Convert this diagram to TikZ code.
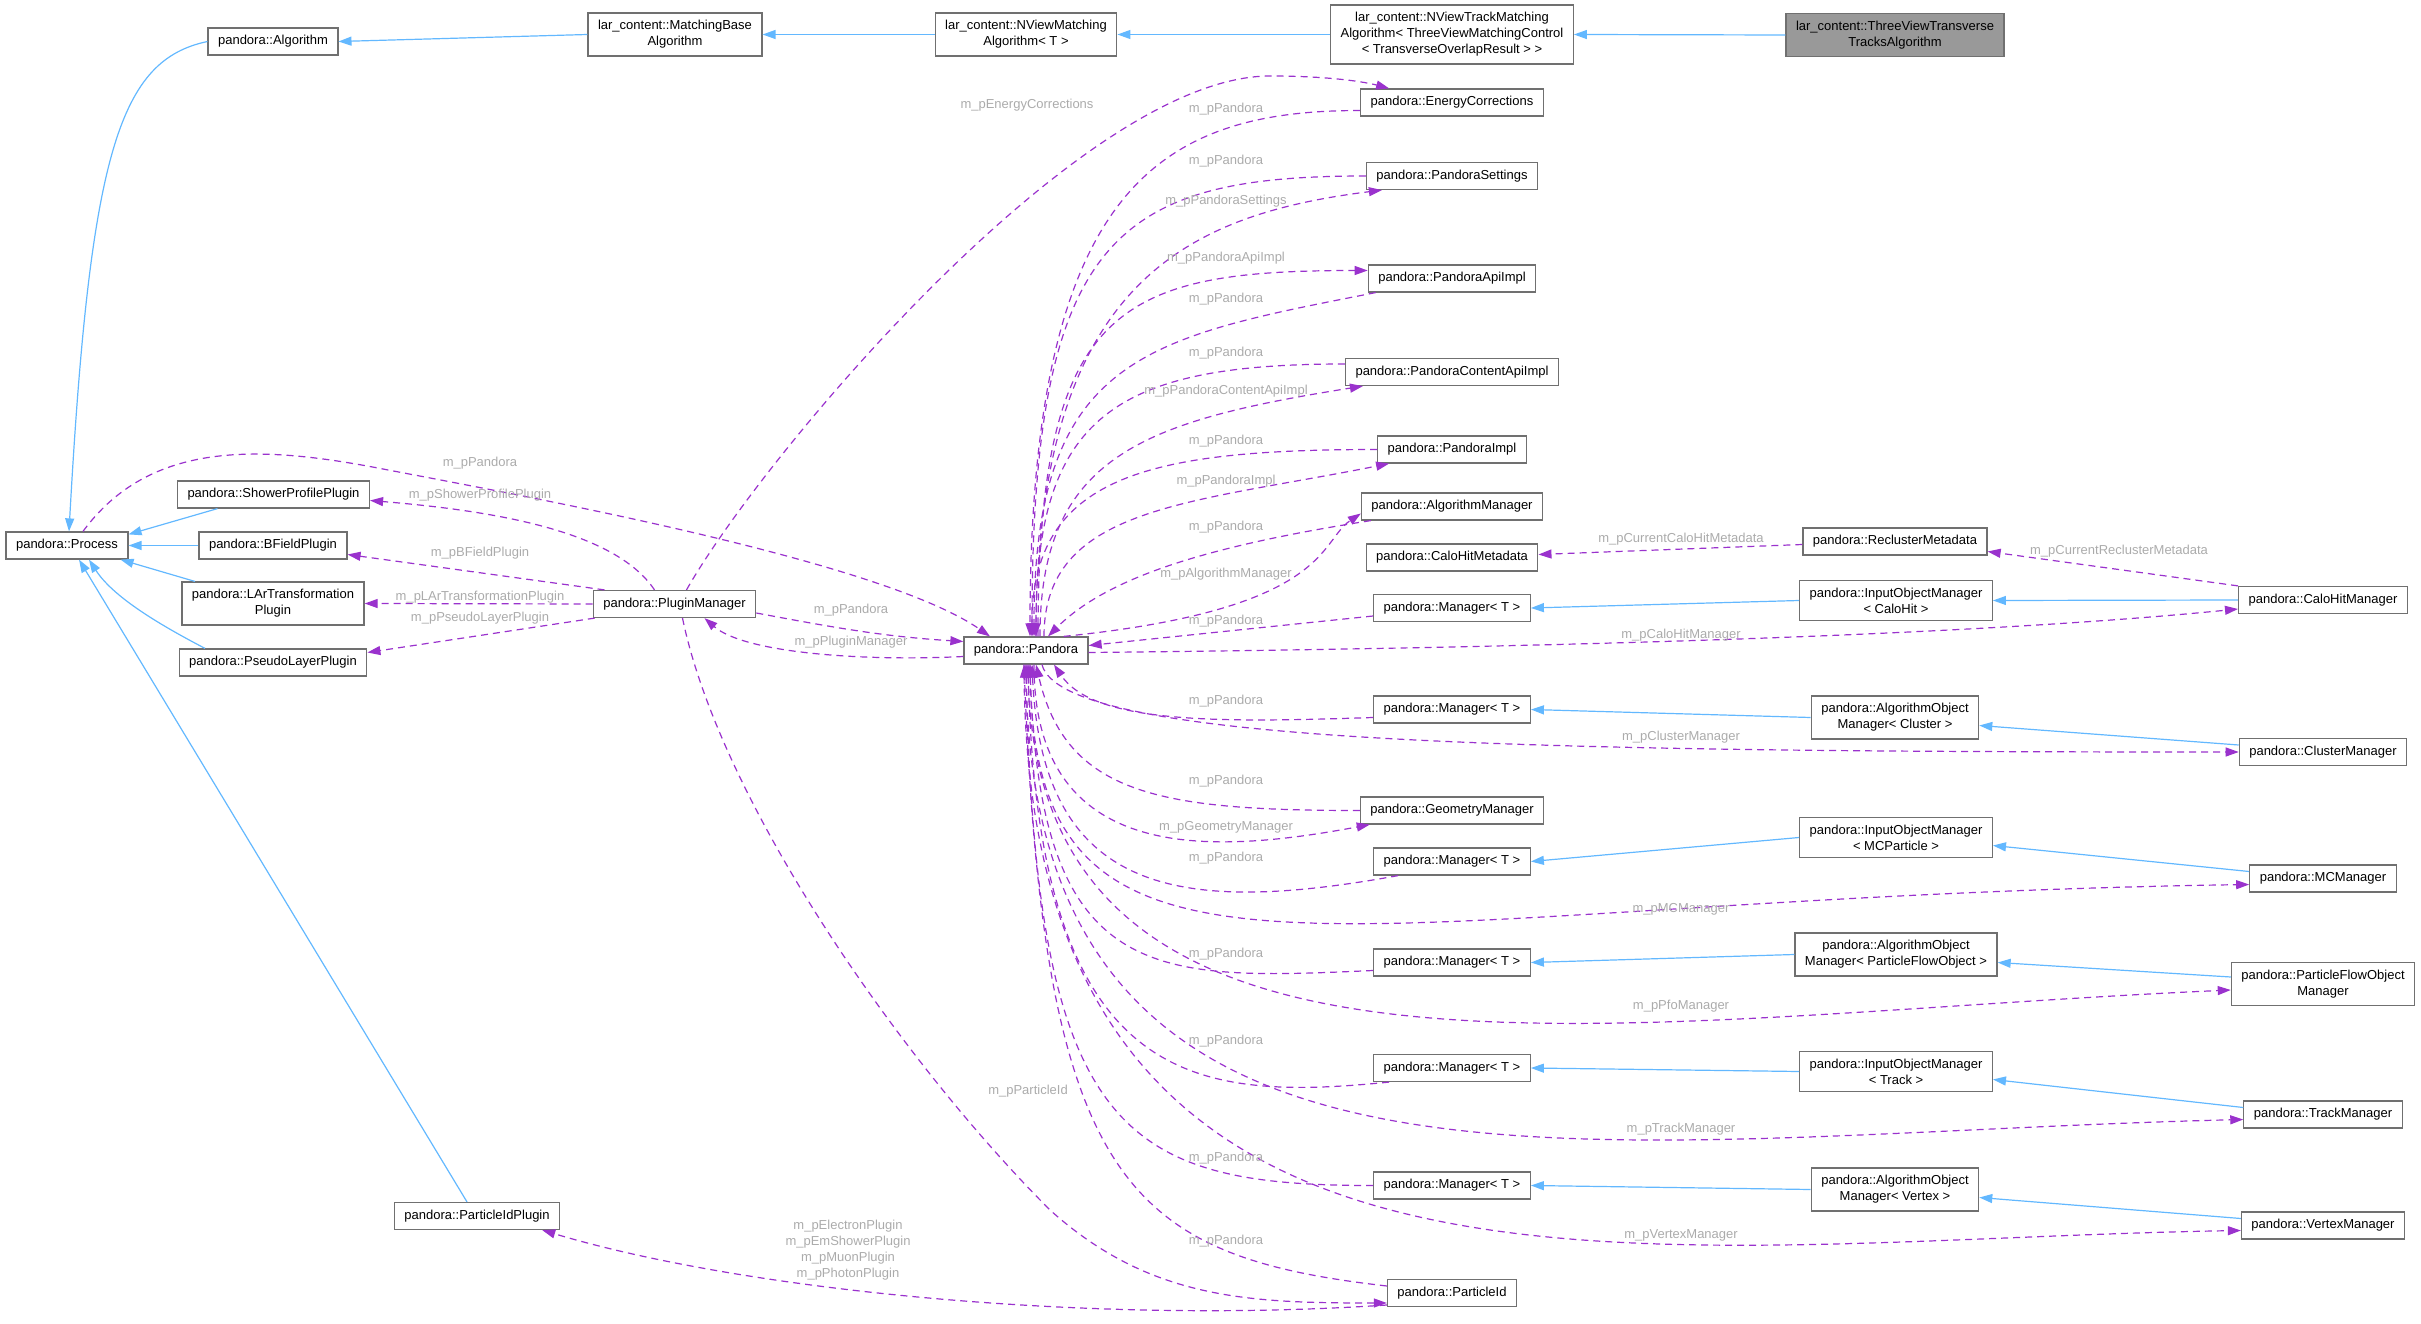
\documentclass[tikz,border=0pt]{standalone}
\usepackage{fontspec}
\setmainfont{Liberation Sans}
\usetikzlibrary{arrows.meta}
\definecolor{inhblue}{HTML}{63B8FF}
\definecolor{usepurple}{HTML}{9A32CD}
\definecolor{lblgray}{HTML}{ABABAB}
\definecolor{boxgray}{HTML}{707070}
\definecolor{boxfill}{HTML}{999999}
\begin{document}
\begin{tikzpicture}[x=1pt,y=-1pt,font=\fontsize{13}{16}\selectfont,
	cls/.style={draw=boxgray,line width=1.2pt,fill=white,align=center,inner xsep=10pt,inner ysep=7.4pt,minimum height=27pt},
	inh/.style={draw=inhblue,line width=1.2pt,-{Triangle[length=13pt,width=9pt]}},
	dep/.style={draw=usepurple,line width=1.2pt,dash pattern=on 7pt off 5pt,-{Triangle[length=13pt,width=9pt]}},
	lbl/.style={text=lblgray,inner sep=0pt,align=center}]
	\useasboundingbox (0,0) rectangle (2421,1324);
	\foreach \nm/\px/\py/\txt in {alg/273/41.5/pandora::Algorithm,mba/675/34.5/lar\_content::MatchingBase\\Algorithm,
		nvm/1026/34.5/lar\_content::NViewMatching\\Algorithm< T >,
		nvt/1452/34.5/lar\_content::NViewTrackMatching\\Algorithm< ThreeViewMatchingControl\\< TransverseOverlapResult > >,
		process/67/545.5/pandora::Process,shower/273.5/494.5/pandora::ShowerProfilePlugin,bfield/273/545.5/pandora::BFieldPlugin,
		lar/273/603.5/pandora::LArTransformation\\Plugin,pseudo/273/662.5/pandora::PseudoLayerPlugin,pidplugin/477/1216/pandora::ParticleIdPlugin,
		pluginmgr/674.5/604/pandora::PluginManager,pandora/1026/650.5/pandora::Pandora,
		ec/1452/102.5/pandora::EnergyCorrections,settings/1452/176/pandora::PandoraSettings,apiimpl/1452/278.5/pandora::PandoraApiImpl,
		contapi/1452/372/pandora::PandoraContentApiImpl,impl/1452/449.5/pandora::PandoraImpl,algmgr/1452/506.5/pandora::AlgorithmManager,
		chmeta/1452/557.5/pandora::CaloHitMetadata,recl/1895/541.5/pandora::ReclusterMetadata,
		mcalo/1452/608/pandora::Manager< T >,icalo/1896/600.5/pandora::InputObjectManager\\< CaloHit >,calohit/2323/600/pandora::CaloHitManager,
		mclus/1452/709.5/pandora::Manager< T >,aclus/1895/717.5/pandora::AlgorithmObject\\Manager< Cluster >,clusmgr/2323/752/pandora::ClusterManager,
		geom/1452/810.5/pandora::GeometryManager,
		mmc/1452/861.5/pandora::Manager< T >,imc/1896/837.5/pandora::InputObjectManager\\< MCParticle >,mcmgr/2323/878.5/pandora::MCManager,
		mpfo/1452/962.5/pandora::Manager< T >,apfo/1896/954.5/pandora::AlgorithmObject\\Manager< ParticleFlowObject >,pfomgr/2323/984/pandora::ParticleFlowObject\\Manager,
		mtrk/1452/1068/pandora::Manager< T >,itrk/1896/1071.5/pandora::InputObjectManager\\< Track >,trkmgr/2323/1114.5/pandora::TrackManager,
		mvtx/1452/1185.5/pandora::Manager< T >,avtx/1895/1189.5/pandora::AlgorithmObject\\Manager< Vertex >,vtxmgr/2323/1225.5/pandora::VertexManager,
		pid/1452/1293/pandora::ParticleId}
	\node[cls] (\nm) at (\px,\py) {\txt};
	\node[cls,fill=boxfill] (three) at (1895,35) {lar\_content::ThreeViewTransverse\\TracksAlgorithm};
	% inheritance
	\draw[inh] (three.west) -- (nvt.east);
	\draw[inh] (nvt.west) -- (nvm.east);
	\draw[inh] (nvm.west) -- (mba.east);
	\draw[inh] (mba.west) -- (alg.east);
	\draw[inh] (alg.west) .. controls (120,60) and (90,150) .. ([xshift=2pt]process.north);
	\draw[inh] ([xshift=-56pt]shower.south) -- ([yshift=-3pt]process.north east);
	\draw[inh] (bfield.west) -- (process.east);
	\draw[inh] ([xshift=-78pt]lar.north) -- ([xshift=-8pt]process.south east);
	\draw[inh] ([xshift=-68pt]pseudo.north) .. controls (170,630) and (115,600) .. ([xshift=22pt]process.south);
	\draw[inh] ([xshift=-10pt]pidplugin.north) -- ([xshift=12pt]process.south);
	\draw[inh] (calohit.west) -- (icalo.east);
	\foreach \a/\b in {icalo/mcalo,aclus/mclus,imc/mmc,apfo/mpfo,itrk/mtrk,avtx/mvtx}
	\draw[inh] (\a.west) -- (\b.east);
	\foreach \a/\b in {clusmgr/aclus,mcmgr/imc,pfomgr/apfo,trkmgr/itrk,vtxmgr/avtx}
	\draw[inh] ([yshift=7pt]\a.west) -- ([yshift=-8pt]\b.east);
	% members
	\draw[dep] ([xshift=12pt]pluginmgr.north) .. controls (760,460) and (1080,76) .. (1270,76) .. controls (1330,76) and (1365,82) .. ([xshift=29pt]ec.north west);
	\draw[dep] ([yshift=-8pt]ec.west) .. controls +(-200,0) and +(0,-450) .. ([xshift=4pt]pandora.north);
	\draw[dep] (settings.west) .. controls +(-250,0) and +(0,-400) .. ([xshift=6pt]pandora.north);
	\draw[dep] ([xshift=10pt]pandora.north) .. controls +(0,-350) and +(-200,25) .. ([xshift=16pt]settings.south west);
	\draw[dep] ([xshift=8pt]apiimpl.south west) .. controls +(-230,45) and +(0,-280) .. ([xshift=8pt]pandora.north);
	\draw[dep] ([xshift=12pt]pandora.north) .. controls +(0,-330) and +(-250,0) .. ([yshift=8pt]apiimpl.west);
	\draw[dep] ([yshift=8pt]contapi.west) .. controls +(-230,0) and +(0,-220) .. ([xshift=10pt]pandora.north);
	\draw[dep] ([xshift=14pt]pandora.north) .. controls +(0,-180) and +(-220,35) .. ([xshift=18pt]contapi.south west);
	\draw[dep] (impl.west) .. controls +(-230,0) and +(0,-160) .. ([xshift=6pt]pandora.north);
	\draw[dep] ([xshift=18pt]pandora.north) .. controls +(0,-130) and +(-200,40) .. ([xshift=12pt]impl.south west);
	\draw[dep] ([xshift=10pt]algmgr.south west) .. controls +(-160,25) and +(60,-60) .. ([xshift=22pt]pandora.north);
	\draw[dep] ([xshift=-25pt]pandora.north east) .. controls +(267,-27) and +(-42,28) .. ([yshift=-7pt]algmgr.west);
	\draw[dep] ([yshift=-8pt]mcalo.west) -- ([yshift=5pt]pandora.east);
	\draw[dep] ([yshift=-2pt]pandora.east) .. controls +(500,-5) and +(-250,25) .. ([yshift=-9pt]calohit.west);
	\draw[dep] ([yshift=-3pt]recl.west) -- ([yshift=3pt]chmeta.east);
	\draw[dep] (calohit.north west) -- ([yshift=-10pt]recl.east);
	\draw[dep] ([yshift=-8pt]mclus.west) .. controls +(-150,5) and +(40,60) .. ([xshift=28pt]pandora.south);
	\draw[dep] ([xshift=16pt]pandora.south) .. controls +(20,80) and +(-700,0) .. (clusmgr.west);
	\draw[dep] (geom.west) .. controls +(-200,0) and +(30,130) .. ([xshift=10pt]pandora.south);
	\draw[dep] ([xshift=8pt]pandora.south) .. controls +(0,200) and +(-160,30) .. ([xshift=10pt]geom.south west);
	\draw[dep] ([xshift=25pt]mmc.south west) .. controls +(-220,40) and +(10,230) .. ([xshift=6pt]pandora.south);
	\draw[dep] ([xshift=4pt]pandora.south) .. controls +(0,380) and +(-920,14) .. ([yshift=-6pt]mcmgr.west);
	\draw[dep] ([yshift=-8pt]mpfo.west) .. controls +(-220,10) and +(10,320) .. ([xshift=4pt]pandora.south);
	\draw[dep] ([xshift=2pt]pandora.south) .. controls +(0,470) and +(-628,28) .. ([yshift=-6pt]pfomgr.west);
	\draw[dep] ([xshift=16pt]mtrk.south west) .. controls +(-200,20) and +(10,420) .. ([xshift=2pt]pandora.south);
	\draw[dep] (pandora.south) .. controls +(0,590) and +(-660,16) .. ([yshift=-5pt]trkmgr.west);
	\draw[dep] (mvtx.west) .. controls +(-250,0) and +(10,470) .. (pandora.south);
	\draw[dep] ([xshift=-2pt]pandora.south) .. controls +(0,700) and +(-600,10) .. ([yshift=-5pt]vtxmgr.west);
	\draw[dep] ([yshift=7pt]pid.west) .. controls +(-260,-30) and +(20,520) .. ([xshift=-2pt]pandora.south);
	\draw[dep] ([xshift=8pt]pluginmgr.south) .. controls (720,800) and (900,1060) .. (1050,1210) .. controls (1150,1300) and (1250,1303) .. ([yshift=-10pt]pid.west);
	\draw[dep] ([yshift=-12pt]pid.west) .. controls +(-300,20) and +(200,60) .. ([xshift=-18pt]pidplugin.south east);
	\draw[dep] ([xshift=16pt]process.north) .. controls (150,440) and (260,445) .. (383,469) .. controls (518,495) and (880,560) .. ([xshift=-36pt]pandora.north);
	\draw[dep] ([xshift=-20pt]pluginmgr.north) .. controls +(-40,-60) and +(120,10) .. ([yshift=-6pt]shower.east);
	\draw[dep] ([xshift=-70pt]pluginmgr.north) -- ([yshift=-9pt]bfield.east);
	\draw[dep] (pluginmgr.west) -- (lar.east);
	\draw[dep] ([xshift=2pt]pluginmgr.south west) -- ([yshift=10pt]pseudo.east);
	\draw[dep] ([yshift=-9pt]pluginmgr.east) .. controls +(80,15) and +(-80,-5) .. ([yshift=9pt]pandora.west);
	\draw[dep] ([yshift=-6pt]pandora.west) .. controls +(-100,5) and +(40,35) .. ([xshift=30pt]pluginmgr.south);
	% labels
	\foreach \nhan/\px/\py [count=\k] in {m\_pEnergyCorrections/1027/105,m\_pPandora/1226/109,m\_pPandora/1226/161,m\_pPandoraSettings/1226/201,
		m\_pPandoraApiImpl/1226/258,m\_pPandora/1226/299,m\_pPandora/1226/353,m\_pPandoraContentApiImpl/1226/391,m\_pPandora/1226/441,
		m\_pPandoraImpl/1226/481,m\_pPandora/1226/527,m\_pAlgorithmManager/1226/574,m\_pCurrentCaloHitMetadata/1681/539,
		m\_pCurrentReclusterMetadata/2119/551,m\_pPandora/1226/621,m\_pCaloHitManager/1681/635,m\_pPandora/1226/701,m\_pClusterManager/1681/737,
		m\_pPandora/1226/781,m\_pGeometryManager/1226/827,m\_pPandora/1226/858,m\_pMCManager/1681/909,m\_pPandora/1226/954,m\_pPfoManager/1681/1006,
		m\_pPandora/1226/1041,m\_pTrackManager/1681/1129,m\_pPandora/1226/1158,m\_pVertexManager/1681/1235,m\_pPandora/1226/1241,
		m\_pParticleId/1028/1091,m\_pPandora/480/463,m\_pShowerProfilePlugin/480/495,m\_pBFieldPlugin/480/553,m\_pLArTransformationPlugin/480/597,
		m\_pPseudoLayerPlugin/480/618,m\_pPandora/851/610,m\_pPluginManager/851/642}
	\node[lbl] (lb\k) at (\px,\py) {\nhan};
	\node[lbl] (lbplug) at (848,1250) {m\_pElectronPlugin\\m\_pEmShowerPlugin\\m\_pMuonPlugin\\m\_pPhotonPlugin};
\end{tikzpicture}
\end{document}
